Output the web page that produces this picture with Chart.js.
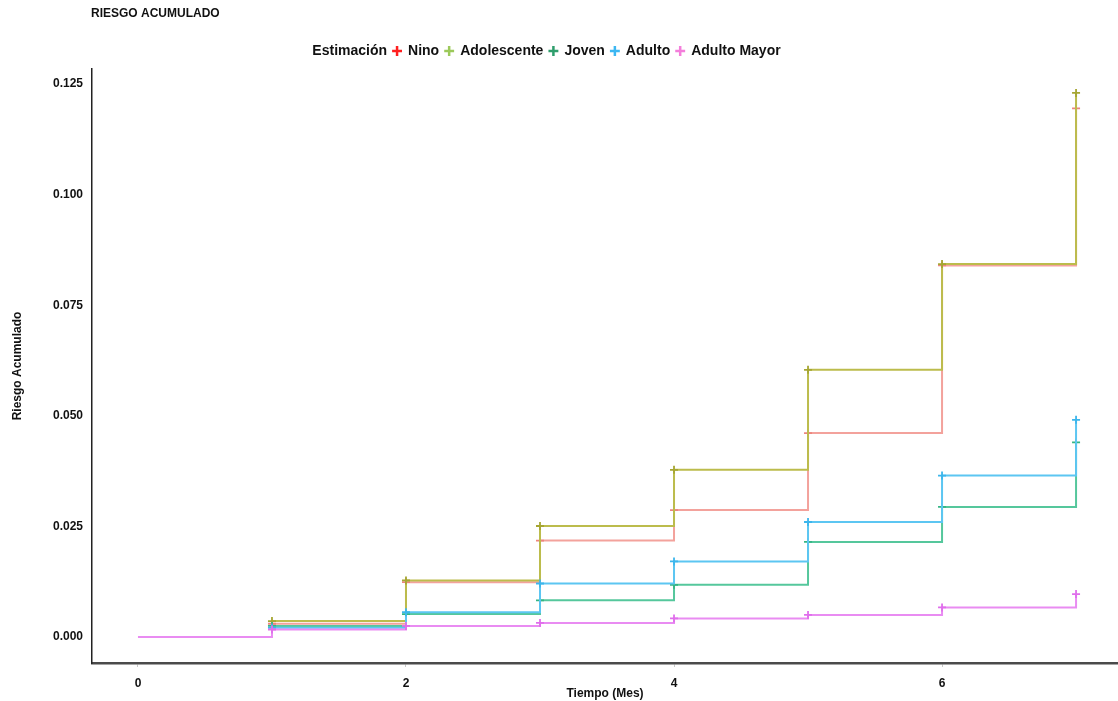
<!DOCTYPE html>
<html lang="es">
<head>
  <meta charset="UTF-8">
  <title>Riesgo acumulado</title>
  <script src="https://cdn.jsdelivr.net/npm/chart.js"></script>
  <style>body { margin: 0; background: #fff; }</style>
</head>
<body>
  <canvas id="riesgoChart" width="1118" height="701"></canvas>

  <script>
    // datos (riesgo acumulado por mes)
    const tiempo = [0, 1, 2, 3, 4, 5, 6, 7];
    const nino = [null, 0.0030, 0.0124, 0.0218, 0.0287, 0.0461, 0.0840, 0.1195];
    const adolescente = [null, 0.0036, 0.0128, 0.0251, 0.0378, 0.0604, 0.0843, 0.1230];
    const joven = [null, 0.0025, 0.0052, 0.0083, 0.0118, 0.0215, 0.0294, 0.0440];
    const adulto = [null, 0.0021, 0.0056, 0.0121, 0.0171, 0.0260, 0.0365, 0.0491];
    const adultoMayor = [0, 0.0017, 0.0025, 0.0032, 0.0042, 0.0050, 0.0067, 0.0097];

    const grupos = ["Nino", "Adolescente", "Joven", "Adulto", "Adulto Mayor"];
    const series = [nino, adolescente, joven, adulto, adultoMayor];
    const xTicks = [0, 2, 4, 6];
    const yTicks = [0, 0.025, 0.05, 0.075, 0.1, 0.125];

    const lineColors = ["#f3a29c", "#bcbc4c", "#55c79c", "#5cc6f2", "#e98cf2"];
    const pointColors = ["#ec857d", "#a6a632", "#35b585", "#3cb6ec", "#e06eec"];
    const legendColors = ["#ff1f1f", "#9cc95a", "#2f9e6c", "#3cb7f2", "#f47edb"];

    const fontFam = '"Liberation Sans", Arial, sans-serif';

    const datasets = series.map((s, i) => ({
      label: grupos[i],
      data: tiempo.map((t, j) => ({ x: t, y: s[j] })),
      stepped: true,
      borderColor: lineColors[i],
      borderWidth: 2,
      pointStyle: "cross",
      pointRadius: ctx => ctx.dataIndex === 0 ? 0 : 4,
      pointBorderColor: pointColors[i],
      pointBorderWidth: 1.8,
      fill: false,
      order: grupos.length - i
    }));

    const tituloPlugin = {
      id: "tituloRiesgo",
      afterDraw(chart) {
        const ctx = chart.ctx;
        ctx.save();
        ctx.font = "bold 12px " + fontFam;
        ctx.fillStyle = "#111";
        ctx.textBaseline = "middle";
        ctx.fillText("RIESGO ACUMULADO", chart.chartArea.left - 1, 14);
        ctx.restore();
      }
    };

    // corre la leyenda un poco a la izquierda como en el original
    const leyendaPlugin = {
      id: "leyendaShift",
      afterUpdate(chart) {
        chart.legend.left -= 20;
        chart.legend.right -= 20;
        chart.legend.top -= 1;
      }
    };

    new Chart(document.getElementById("riesgoChart").getContext("2d"), {
      type: "line",
      data: { datasets: datasets },
      plugins: [tituloPlugin, leyendaPlugin],
      options: {
        responsive: false,
        animation: false,
        layout: { autoPadding: false, padding: { top: 39, left: 0, right: 0, bottom: 0 } },
        plugins: {
          tooltip: { enabled: false },
          legend: {
            position: "top",
            onClick: null,
            labels: {
              usePointStyle: true,
              boxWidth: 8,
              boxHeight: 7,
              padding: 6,
              color: "#111",
              font: { family: fontFam, size: 14, weight: "bold" },
              generateLabels: () => [{
                text: "Estimación",
                fillStyle: "rgba(0,0,0,0)",
                strokeStyle: "rgba(0,0,0,0)",
                lineWidth: 0,
                pointStyle: "cross",
                fontColor: "#111"
              }].concat(grupos.map((g, i) => ({
                text: g,
                fillStyle: legendColors[i],
                strokeStyle: legendColors[i],
                lineWidth: 2.5,
                pointStyle: "cross",
                fontColor: "#111",
                datasetIndex: i
              })))
            }
          }
        },
        scales: {
          x: {
            type: "linear",
            min: -0.343,
            max: 7.313,
            afterFit: s => { s.height = 38; },
            afterBuildTicks: s => { s.ticks = xTicks.map(v => ({ value: v })); },
            grid: { display: true, drawOnChartArea: false, drawTicks: true, tickLength: 4, color: "#c8c8c8" },
            border: { display: true, color: "#4a4a4a", width: 2.5 },
            ticks: {
              padding: 9,
              color: "#111",
              font: { family: fontFam, size: 12, weight: "bold" },
              callback: v => String(v)
            },
            title: {
              display: true,
              text: "Tiempo (Mes)",
              color: "#111",
              padding: { top: 0, bottom: 0 },
              font: { family: fontFam, size: 12, weight: "bold" }
            }
          },
          y: {
            min: -0.00587,
            max: 0.1284,
            afterFit: s => { s.width = 92; },
            afterBuildTicks: s => { s.ticks = yTicks.map(v => ({ value: v })); },
            grid: { display: false, drawTicks: false },
            border: { display: true, color: "#222", width: 1.5 },
            ticks: {
              padding: 9,
              color: "#111",
              font: { family: fontFam, size: 12, weight: "bold" },
              callback: v => v.toFixed(3)
            },
            title: {
              display: true,
              text: "Riesgo Acumulado",
              color: "#111",
              padding: { top: 10, bottom: 0 },
              font: { family: fontFam, size: 12, weight: "bold" }
            }
          }
        }
      }
    });
  </script>
</body>
</html>
